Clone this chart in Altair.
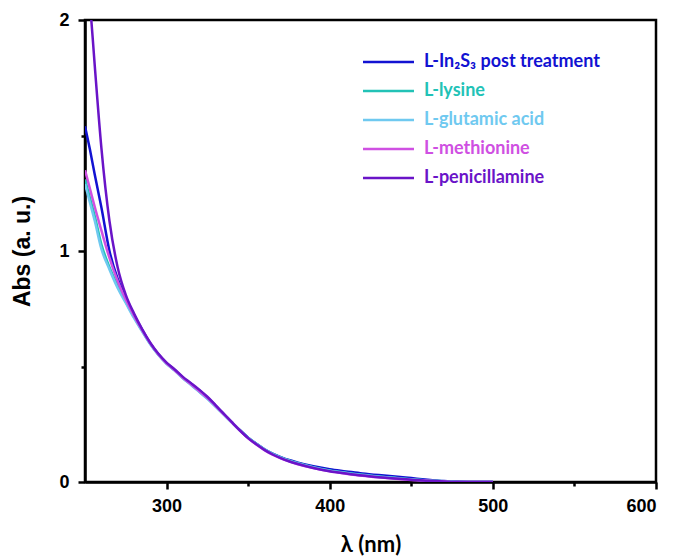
import altair as alt
import pandas as pd

# wavelengths (nm)
wl = [250, 253, 256, 260, 265, 270, 275, 280, 285, 290, 295, 300, 305, 310, 315,
      320, 325, 330, 335, 340, 345, 350, 355, 360, 365, 370, 375, 380, 390, 400,
      410, 420, 430, 440, 450, 460, 470, 480, 490, 500]

names = ["L-In\u2082S\u2083 post treatment", "L-lysine", "L-glutamic acid",
         "L-methionine", "L-penicillamine"]
colors = ["#1212d2", "#22c2b6", "#6fc9f0", "#cf50e2", "#6a14c8"]

post = [1.54, 1.44, 1.33, 1.19, 1.00, 0.88, 0.80, 0.725, 0.66, 0.60, 0.553, 0.515, 0.485, 0.452, 0.425,
        0.397, 0.366, 0.331, 0.295, 0.259, 0.224, 0.192, 0.166, 0.142, 0.123, 0.108, 0.095, 0.085, 0.068, 0.055,
        0.046, 0.037, 0.030, 0.024, 0.017, 0.010, 0.004, 0.001, 0.0, 0.0]
lysine = [1.31, 1.23, 1.15, 1.03, 0.93, 0.85, 0.78, 0.715, 0.655, 0.598, 0.551, 0.513, 0.483, 0.450, 0.422,
          0.392, 0.362, 0.328, 0.293, 0.258, 0.224, 0.192, 0.166, 0.142, 0.122, 0.106, 0.093, 0.082, 0.064, 0.050,
          0.040, 0.031, 0.024, 0.018, 0.012, 0.007, 0.003, 0.0, 0.0, 0.0]
glutamic = [1.29, 1.21, 1.13, 1.01, 0.92, 0.84, 0.775, 0.71, 0.652, 0.596, 0.550, 0.512, 0.482, 0.449, 0.420,
            0.390, 0.360, 0.326, 0.292, 0.257, 0.223, 0.191, 0.165, 0.141, 0.121, 0.105, 0.092, 0.081, 0.063, 0.049,
            0.039, 0.030, 0.023, 0.017, 0.011, 0.006, 0.002, 0.0, 0.0, 0.0]
methionine = [1.35, 1.27, 1.19, 1.09, 0.97, 0.87, 0.79, 0.72, 0.657, 0.600, 0.552, 0.514, 0.484, 0.451, 0.423,
              0.394, 0.364, 0.330, 0.294, 0.258, 0.222, 0.189, 0.162, 0.138, 0.118, 0.102, 0.089, 0.078, 0.060, 0.046,
              0.036, 0.027, 0.020, 0.014, 0.009, 0.005, 0.002, 0.0, 0.0, 0.0]
penicillamine = [2.30, 2.08, 1.80, 1.45, 1.13, 0.93, 0.81, 0.73, 0.662, 0.603, 0.555, 0.517, 0.487, 0.455, 0.428,
                 0.400, 0.369, 0.333, 0.296, 0.259, 0.223, 0.190, 0.163, 0.139, 0.119, 0.103, 0.090, 0.079, 0.061, 0.047,
                 0.037, 0.028, 0.021, 0.015, 0.010, 0.005, 0.002, 0.0, 0.0, 0.0]

series_vals = [post, lysine, glutamic, methionine, penicillamine]

rows = []
for order, (nm, vals) in enumerate(zip(names, series_vals)):
    for w, v in zip(wl, vals):
        rows.append({"wl": w, "abs": v, "series": nm, "order": order})
df = pd.DataFrame(rows)
leg = pd.DataFrame({"series": names})

color_scale = alt.Scale(domain=names, range=colors)

AX_FONT = "Liberation Sans"

lines = alt.Chart(df).mark_line(clip=True, strokeWidth=2.5, interpolate="monotone").encode(
    x=alt.X("wl:Q", scale=alt.Scale(domain=[250, 600], nice=False, zero=False),
            axis=alt.Axis(title="\u03bb (nm)", values=[300, 350, 400, 450, 500, 550, 600],
                          labelExpr="datum.value % 100 == 0 ? datum.label : ''",
                          tickSize={"condition": {"test": "datum.value % 100 != 0", "value": 4}, "value": 7},
                          titleFont="Lato", titleFontSize=22, titlePadding=19,
                          labelPadding=8)),
    y=alt.Y("abs:Q", scale=alt.Scale(domain=[0, 2], nice=False),
            axis=alt.Axis(title="Abs (a. u.)", values=[0, 0.5, 1, 1.5, 2],
                          labelExpr="datum.value % 1 == 0 ? format(datum.value, 'd') : ''",
                          tickSize={"condition": {"test": "datum.value % 1 != 0", "value": 4}, "value": 7},
                          titleFont=AX_FONT, titleFontSize=23, titlePadding=24,
                          labelPadding=9)),
    color=alt.Color("series:N", scale=color_scale, legend=None),
    order=alt.Order("order:Q"),
    detail="series:N",
)

leg_y = alt.Y("series:N", scale=alt.Scale(type="point", domain=names, range=[42, 158], padding=0), axis=None)

leg_rules = alt.Chart(leg).mark_rule(strokeWidth=2.5).encode(
    x=alt.value(278), x2=alt.value(329),
    y=leg_y,
    color=alt.Color("series:N", scale=color_scale, legend=None),
)
leg_text = alt.Chart(leg).mark_text(align="left", baseline="middle", font="Lato",
                                    fontWeight="bold", fontSize=18, dx=0).encode(
    x=alt.value(339),
    y=leg_y,
    text="series:N",
    color=alt.Color("series:N", scale=color_scale, legend=None),
)

chart = alt.layer(lines, leg_rules, leg_text).resolve_scale(y="independent").properties(
    width=571, height=462,
    padding={"left": 85, "top": 20, "right": 20, "bottom": 76},
    autosize="none",
    background="white",
).configure_view(stroke="black", strokeWidth=2.5).configure_axis(
    domainColor="black", domainWidth=2.5, tickColor="black", tickWidth=2.5,
    labelFont=AX_FONT, labelFontWeight="bold", labelFontSize=18, labelColor="black",
    titleFontWeight="bold", titleColor="black", grid=False,
)

chart.save("out.html", embed_options={"renderer": "svg", "actions": False})
